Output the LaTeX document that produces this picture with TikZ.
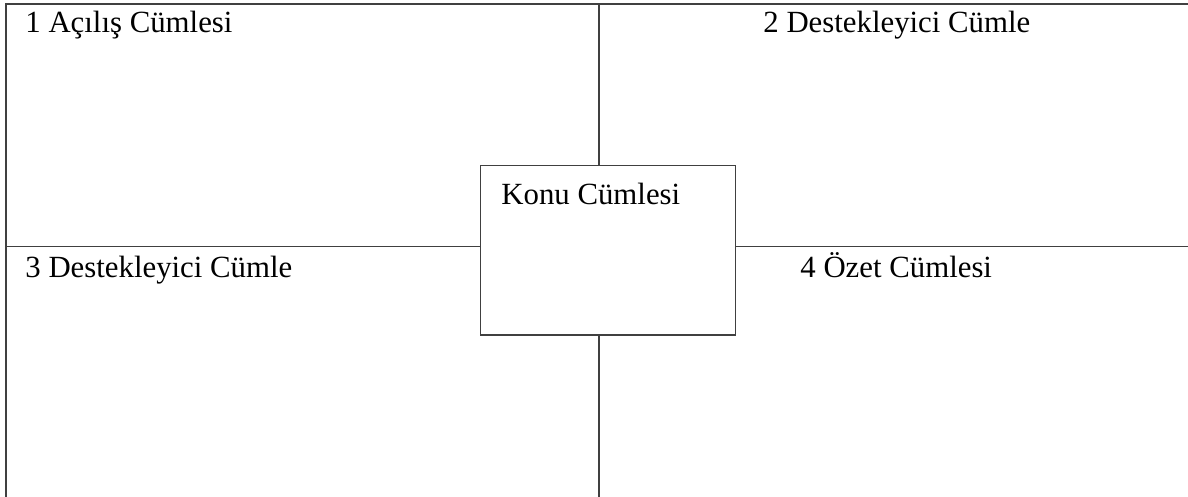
\documentclass[tikz,border=0pt]{standalone}
\usepackage{fontspec}
\setmainfont{Liberation Serif}
\begin{document}
\begin{tikzpicture}[x=0.5pt,y=-0.5pt,
  ln/.style={draw=black!75,line width=0.65pt},
  lbl/.style={anchor=base west,inner sep=0pt,font=\fontsize{15.4}{18}\selectfont},
  centerbox/.style={ln,rectangle,minimum width=127.3pt,minimum height=84.8pt,inner sep=0pt}]
\useasboundingbox (0,0) rectangle (1188,497);
\coordinate (tl) at (6,4);
\coordinate (tr) at (1188,4);
\coordinate (bl) at (6,497);
\coordinate (tm) at (599,4);
\coordinate (bm) at (599,497);
\coordinate (ml) at (6,246.5);
\coordinate (mr) at (1188,246.5);
\node[centerbox] (box) at (608,250.2) {};
\draw[ln] (bl) -- (tl) -- (tr);
\draw[ln] (tm) -- (tm |- box.north);
\draw[ln] (box.south -| bm) -- (bm);
\draw[ln] (ml) -- (ml -| box.west);
\draw[ln] (box.east |- mr) -- (mr);
\node[lbl] (t1) at (25,33) {1 Açılış Cümlesi};
\node[lbl] (t2) at (763,33) {2 Destekleyici Cümle};
\node[lbl] (t3) at (25,278) {3 Destekleyici Cümle};
\node[lbl] (t4) at (800,278) {4 Özet Cümlesi};
\node[lbl] (tc) at (501,205) {Konu Cümlesi};
\end{tikzpicture}
\end{document}
